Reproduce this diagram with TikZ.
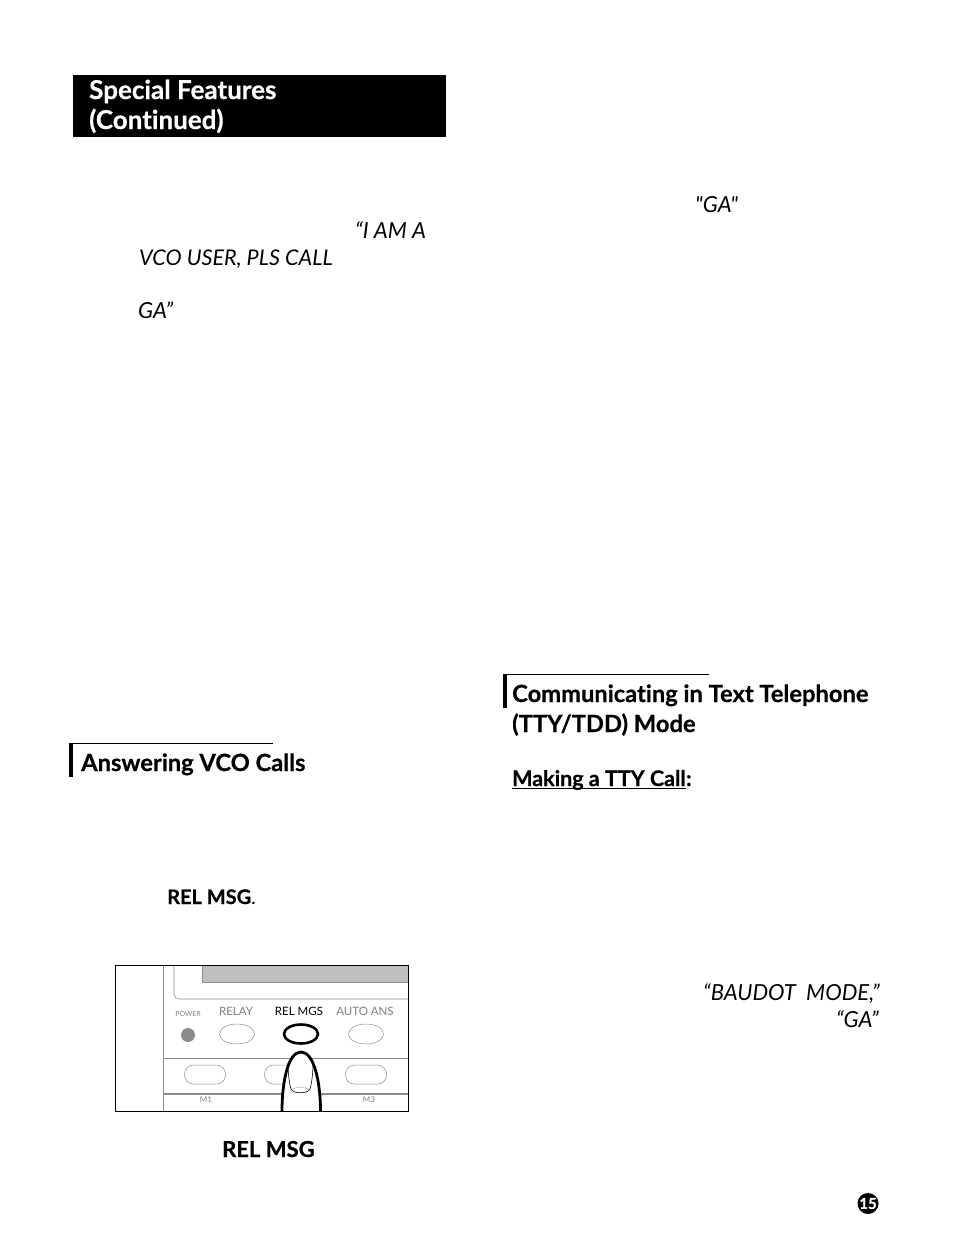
\documentclass[tikz,border=0pt]{standalone}
\usepackage{fontspec}
\setmainfont{Lato}[Ligatures=NoCommon, BoldFeatures={FakeBold=0.6}]
\newfontfamily\straightface{Lato}
\usepackage{xcolor}
\definecolor{panel-gray}{gray}{0.55}
\definecolor{label-gray}{gray}{0.5}
\definecolor{screen-gray}{gray}{0.75}
\tikzset{
    title-text/.style = {anchor=base west, inner sep=0pt, text=white, font=\fontsize{26}{26}\selectfont\bfseries},
    heading-text/.style = {anchor=base west, inner sep=0pt, font=\fontsize{23.7}{24}\selectfont\bfseries},
    sub-text/.style = {anchor=base west, inner sep=0pt, font=\fontsize{21.5}{22}\selectfont\bfseries},
    quote-text/.style = {anchor=base west, inner sep=0pt, font=\fontsize{21.6}{22}\selectfont\itshape},
    wide-quote/.style = {anchor=base west, inner sep=0pt, font=\fontsize{22.1}{22}\selectfont\itshape},
    panel-label/.style = {inner sep=0pt, text=label-gray, font=\fontsize{11.5}{12}\selectfont},
    small-label/.style = {inner sep=0pt, text=label-gray, font=\fontsize{7}{7}\selectfont},
    panel-button/.style = {draw=panel-gray, fill=white, ellipse, minimum width=35pt, minimum height=20pt, inner sep=0pt, line width=0.5pt},
    memory-button/.style = {draw=panel-gray, fill=white, rectangle, rounded corners=9pt, minimum width=41pt, minimum height=19pt, inner sep=0pt, line width=0.5pt},
}
\usetikzlibrary{shapes.geometric}
\begin{document}
\begin{tikzpicture}[x=1pt, y=-1pt]
\useasboundingbox (0,0) rectangle (954,1248);
% title bar
\node [rectangle, fill=black, inner sep=0pt, minimum width=373pt, minimum height=62pt, anchor=north west] (titlebar) at (73,75) {};
\node [title-text] (title-one) at (89,99) {Special Features};
\node [title-text] (title-two) at (89,129) {(Continued)};
% quoted text
\node [wide-quote] (quote-one) at (355,238) {“I AM A};
\node [quote-text] (quote-two) at (139,265) {VCO USER, PLS CALL};
\node [wide-quote] (quote-three) at (138,318) {GA”};
\node [wide-quote] (quote-four) at (695,212) {\straightface\itshape "GA"};
\node [wide-quote] (quote-five) at (703,1000) {“BAUDOT\ \ MODE,”};
\node [wide-quote] (quote-six) at (836,1027) {“GA”};
% section headings
\fill (69,743) rectangle (73,777);
\draw [line width=0.8pt] (69,743.4) -- (273,743.4);
\node [heading-text] (answering) at (81,771) {Answering VCO Calls};
\fill (503,674) rectangle (507,708);
\draw [line width=0.8pt] (503,674.4) -- (709,674.4);
\node [heading-text] (communicating) at (512,702) {Communicating in Text Telephone};
\node [heading-text] (mode) at (512,732) {(TTY/TDD) Mode};
\node [sub-text] (making) at (512,786) {Making a TTY Call};
\node [sub-text] (making-colon) at (making.base east) {:};
\draw [line width=1pt] ([yshift=-2.5pt]making.base west) -- ([yshift=-2.5pt]making.base east);
\node [sub-text, font=\fontsize{20}{20}\selectfont\bfseries] (relmsg-small) at (167,904) {REL MSG\textmd{.}};
% telephone panel
\fill [screen-gray] (202,965) rectangle (408,982);
\draw [panel-gray, line width=0.6pt] (202,965) -- (202,982) -- (408,982);
\draw [panel-gray, line width=0.6pt, rounded corners=5pt] (174,965) -- (174,999) -- (408,999);
\draw [panel-gray, line width=0.8pt] (163,965) -- (163,1111);
\draw [panel-gray, line width=0.8pt] (163,1058) -- (408,1058);
\draw [panel-gray, line width=1.4pt] (163,1094) -- (408,1094);
\node [small-label] (power) at (188,1014) {POWER};
\fill [panel-gray] (188,1035) circle (7pt);
\node [panel-label] (relay) at (236,1011) {RELAY};
\node [panel-label, text=black] (relmgs) at (299,1011) {REL MGS};
\node [panel-label] (autoans) at (365,1011) {AUTO ANS};
\node [panel-button] (relay-button) at (237,1034) {};
\node [panel-button, draw=black, line width=2.6pt, minimum width=34pt, minimum height=19pt] (relmgs-button) at (301,1034) {};
\node [panel-button] (autoans-button) at (366,1034) {};
\foreach \bx/\bname in {205/one, 285/two, 366/three}
    \node [memory-button] (memory-\bname) at (\bx,1074.5) {};
\node [small-label, font=\fontsize{8}{8}\selectfont] (m-one) at (206,1100) {M1};
\node [small-label, font=\fontsize{8}{8}\selectfont] (m-three) at (369,1100) {M3};
% finger
\draw [fill=white, line width=2.8pt] (282,1111) .. controls (282,1082) and (288,1052) .. (301,1052)
    .. controls (314,1052) and (320.5,1082) .. (320.5,1111);
\draw [line width=0.6pt] (288,1063) .. controls (288,1072) and (289,1082) .. (291,1089)
    .. controls (293,1094) and (308,1094) .. (310,1089)
    .. controls (312,1082) and (313,1072) .. (313,1063);
\draw [line width=0.3pt, panel-gray] (292,1089) .. controls (296,1087) and (305,1087) .. (309,1089);
% figure frame
\node [rectangle, draw=black, line width=0.9pt, inner sep=0pt, minimum width=293pt, minimum height=146pt, anchor=north west] (frame) at (115,965) {};
\node [sub-text, font=\fontsize{22}{22}\selectfont\bfseries] (relmsg-big) at (222,1157) {REL MSG};
% page number
\node [circle, fill=black, text=white, inner sep=0pt, minimum size=21pt, font=\fontsize{15}{15}\selectfont\bfseries] (pagenum) at (868,1203.5) {15};
\end{tikzpicture}
\end{document}
